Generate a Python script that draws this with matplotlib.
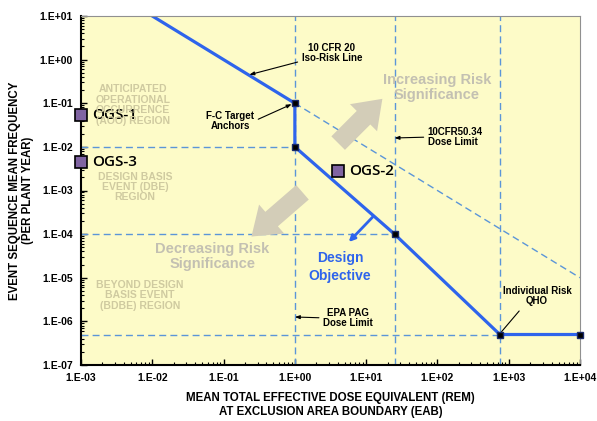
import numpy as np
import matplotlib
matplotlib.use('Agg')
import matplotlib.pyplot as plt
from matplotlib.ticker import LogLocator, FixedLocator, NullFormatter

matplotlib.rc('font', **{'family': 'sans-serif',
                         'sans-serif': ['Liberation Sans', 'DejaVu Sans'],
                         'size': 7, 'weight': 'bold'})

# frequency-consequence curve (dose in rem, frequency per plant year)
fc_dose = [0.01, 1, 1, 25, 750, 1e4]
fc_freq = [10, 0.1, 0.01, 1e-4, 5e-7, 5e-7]
anchor_dose = [1, 1, 25, 750, 1e4]
anchor_freq = [0.1, 0.01, 1e-4, 5e-7, 5e-7]

# 10 CFR 20 iso-risk extension
iso_dose = [1, 1e4]
iso_freq = [0.1, 1e-5]

# region boundaries
dose_limits = [1, 25, 750]
freq_bounds = [1e-2, 1e-4, 5e-7]
freq_bound_ends = [1, 25, 750]

# operating group scenarios
ogs_names = ['OGS-1', 'OGS-3', 'OGS-2']
ogs_dose = [1e-3, 1e-3, 4]
ogs_freq = [0.054, 4.6e-3, 2.8e-3]

xticks = [1e-3, 1e-2, 1e-1, 1e0, 1e1, 1e2, 1e3, 1e4]
xticklabels = ['1.E-03', '1.E-02', '1.E-01', '1.E+00', '1.E+01', '1.E+02', '1.E+03', '1.E+04']
yticks = [1e-7, 1e-6, 1e-5, 1e-4, 1e-3, 1e-2, 1e-1, 1e0, 1e1]
yticklabels = ['1.E-07', '1.E-06', '1.E-05', '1.E-04', '1.E-03', '1.E-02', '1.E-01', '1.E+00', '1.E+01']

blue = '#2e64ec'
dash_blue = '#5b95d8'
region_gray = '#cfcaa0'
arrow_gray = '#d3cdb8'
sig_gray = '#c3c0b2'

fig = plt.figure(figsize=(5.97, 4.21), dpi=100)
ax = fig.add_axes([81/597, 56/421, 499/597, 349/421])
ax.set_facecolor('#fdfbc8')
ax.set_xscale('log')
ax.set_yscale('log')
ax.set_xlim(1e-3, 1e4)
ax.set_ylim(1e-7, 1e1)

# dashed boundaries
for d in dose_limits:
    ax.axvline(d, color=dash_blue, lw=1, ls=(0, (5, 3)))
for f, e in zip(freq_bounds, freq_bound_ends):
    ax.plot([1e-3, e], [f, f], color=dash_blue, lw=1, ls=(0, (5, 3)))
ax.plot(iso_dose, iso_freq, color=dash_blue, lw=1, ls=(0, (5, 3)))

# F-C curve
ax.plot(fc_dose, fc_freq, color=blue, lw=2.3, solid_joinstyle='miter')
ax.plot(anchor_dose, anchor_freq, 's', color='k', ms=5, mec='#1a2a6a',
        clip_on=False, zorder=5)

# OGS points
for name, d, f in zip(ogs_names, ogs_dose, ogs_freq):
    ax.plot(d, f, 's', ms=9, mfc='#8064a2', mec='k', mew=1.2,
            clip_on=False, zorder=6)
    ax.annotate(name, (d, f), xytext=(8, 0), textcoords='offset points',
                va='center', ha='left', fontsize=11, fontweight='semibold',
                family=['Open Sans', 'DejaVu Sans'])

# big significance arrows
big = dict(arrowstyle='simple,head_width=2.3,head_length=1.6,tail_width=1.15',
           color=arrow_gray, mutation_scale=12, lw=0)
ax.annotate('', xy=(18, 0.14), xytext=(3.8, 0.011), arrowprops=big)
ax.annotate('', xy=(0.23, 8e-5), xytext=(1.37, 1e-3), arrowprops=big)
ax.text(0.713, 0.794, 'Increasing Risk\nSignificance', transform=ax.transAxes,
        ha='center', va='center', fontsize=10.5, color=sig_gray, linespacing=1.1)
ax.text(0.263, 0.312, 'Decreasing Risk\nSignificance', transform=ax.transAxes,
        ha='center', va='center', fontsize=10.5, color=sig_gray, linespacing=1.1)

# design objective
ax.annotate('', xy=(5.7, 6.6e-5), xytext=(12.3, 2.45e-4),
            arrowprops=dict(arrowstyle='-|>,head_width=0.25,head_length=0.5',
                            color=blue, lw=2, shrinkA=0, shrinkB=0))
ax.text(0.519, 0.281, 'Design\nObjective', transform=ax.transAxes,
        ha='center', va='center', fontsize=10, color=blue, linespacing=1.3)

# region labels
ax.text(0.104, 0.745, 'ANTICIPATED\nOPERATIONAL\nOCCURRENCE\n(AOO) REGION',
        transform=ax.transAxes, ha='center', va='center', color=region_gray,
        fontsize=7.5, linespacing=1.05)
ax.text(0.108, 0.510, 'DESIGN BASIS\nEVENT (DBE)\nREGION',
        transform=ax.transAxes, ha='center', va='center', color=region_gray,
        fontsize=7.5, linespacing=1.05)
ax.text(0.118, 0.200, 'BEYOND DESIGN\nBASIS EVENT\n(BDBE) REGION',
        transform=ax.transAxes, ha='center', va='center', color=region_gray,
        fontsize=7.5, linespacing=1.05)

# callouts
arr = dict(arrowstyle='-|>,head_width=0.15,head_length=0.4', color='k', lw=0.8,
           shrinkA=1, shrinkB=0)
ax.annotate('10 CFR 20\nIso-Risk Line', xy=(0.23, 0.45), xytext=(0.503, 0.894),
            textcoords='axes fraction', ha='center', va='center',
            linespacing=1.05, arrowprops=arr)
ax.annotate('F-C Target\nAnchors', xy=(0.9, 0.095), xytext=(0.299, 0.699),
            textcoords='axes fraction', ha='center', va='center',
            linespacing=1.05, arrowprops=dict(arr, relpos=(1, 0.5)))
ax.annotate('10CFR50.34\nDose Limit', xy=(25, 0.016), xytext=(0.695, 0.653),
            textcoords='axes fraction', ha='left', va='center',
            linespacing=1.05, arrowprops=dict(arr, relpos=(0, 0.5)))
ax.annotate('EPA PAG\nDose Limit', xy=(1, 1.26e-6), xytext=(0.535, 0.135),
            textcoords='axes fraction', ha='center', va='center',
            linespacing=1.05, arrowprops=dict(arr, relpos=(0, 0.5)))
ax.annotate('Individual Risk\nQHO', xy=(750, 5.2e-7), xytext=(0.914, 0.198),
            textcoords='axes fraction', ha='center', va='center',
            linespacing=1.05,
            arrowprops=dict(arrowstyle='-', color='k', lw=0.8, relpos=(0.3, 0)))

# axes styling
for s in ['top', 'right']:
    ax.spines[s].set_color('#909090')
    ax.spines[s].set_linewidth(0.8)
for s in ['left', 'bottom']:
    ax.spines[s].set_color('k')
    ax.spines[s].set_linewidth(1.5)
ax.xaxis.set_major_locator(FixedLocator(xticks))
ax.set_xticklabels(xticklabels)
ax.yaxis.set_major_locator(FixedLocator(yticks))
ax.set_yticklabels(yticklabels)
ax.xaxis.set_minor_locator(LogLocator(base=10, subs=np.arange(2, 10)))
ax.yaxis.set_minor_locator(LogLocator(base=10, subs=np.arange(2, 10)))
ax.xaxis.set_minor_formatter(NullFormatter())
ax.yaxis.set_minor_formatter(NullFormatter())
ax.tick_params(which='both', direction='in', top=False, right=False)
ax.tick_params(which='major', length=4, width=1, pad=6, labelsize=7.5)
ax.tick_params(which='minor', length=2, width=0.8)

ax.set_xlabel('MEAN TOTAL EFFECTIVE DOSE EQUIVALENT (REM)\nAT EXCLUSION AREA BOUNDARY (EAB)',
              fontsize=8.3, fontweight='bold', labelpad=6, linespacing=1.3)
ax.set_ylabel('EVENT SEQUENCE MEAN FREQUENCY\n(PER PLANT YEAR)',
              fontsize=8.3, fontweight='bold', labelpad=4, linespacing=1.05)

fig.savefig('out.png', dpi=100)
